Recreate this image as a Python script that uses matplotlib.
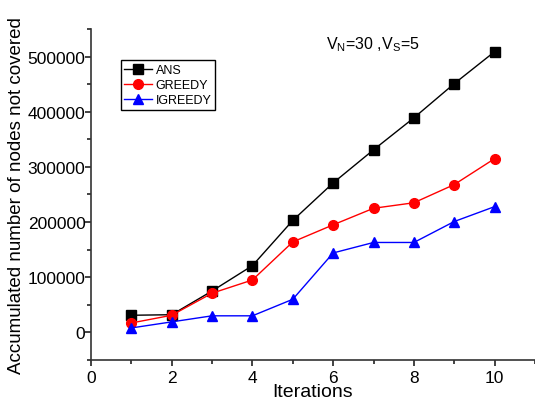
import matplotlib
matplotlib.use('Agg')
import matplotlib.pyplot as plt
from matplotlib.ticker import MultipleLocator

plt.rcParams['font.family'] = ['Liberation Sans', 'DejaVu Sans']

iterations = [1, 2, 3, 4, 5, 6, 7, 8, 9, 10]
ans = [31000, 32000, 75000, 121000, 203000, 271000, 331000, 389000, 451000, 509000]
greedy = [17000, 31000, 71000, 95000, 164000, 195000, 225000, 235000, 268000, 315000]
igreedy = [8000, 19000, 30000, 30000, 60000, 144000, 163000, 163000, 201000, 228000]

fig = plt.figure(figsize=(5.35, 4.06), dpi=100)
ax = fig.add_axes([0.170, 0.111, 0.830, 0.815])

ax.plot(iterations, ans, color='black', marker='s', markersize=6.5, linewidth=1, label='ANS')
ax.plot(iterations, greedy, color='red', marker='o', markersize=7, linewidth=1, label='GREEDY')
ax.plot(iterations, igreedy, color='blue', marker='^', markersize=7.5, linewidth=1, label='IGREEDY')

ax.set_xlim(0, 11)
ax.set_ylim(-50000, 550000)
ax.xaxis.set_major_locator(MultipleLocator(2))
ax.xaxis.set_minor_locator(MultipleLocator(1))
ax.yaxis.set_major_locator(MultipleLocator(100000))
ax.yaxis.set_minor_locator(MultipleLocator(50000))

for s in ['top', 'right']:
    ax.spines[s].set_visible(False)
for s in ['left', 'bottom']:
    ax.spines[s].set_color('#333333')
    ax.spines[s].set_linewidth(1.2)

ax.tick_params(which='major', direction='out', length=4, width=1.2, labelsize=12.5, color='#222222')
ax.tick_params(axis='y', which='major', pad=0)
ax.tick_params(axis='x', which='major', pad=3)
ax.tick_params(which='minor', direction='out', length=3, width=1.2, color='#222222')

ax.set_xlabel('Iterations', fontsize=14, labelpad=-1)
ax.set_ylabel('Accumulated number of nodes not covered', fontsize=13.5, labelpad=2)

fig.text(326 / 535, 1 - 45 / 406, r'V$\mathregular{_N}$=30 ,V$\mathregular{_S}$=5', fontsize=11.5,
         va='center', ha='left')

leg = ax.legend(loc='upper left', bbox_to_anchor=(0.067, 0.905), fontsize=9,
                frameon=True, fancybox=False, edgecolor='black', framealpha=1,
                handlelength=2.2, handletextpad=0.3, borderpad=0.3,
                labelspacing=0.25, borderaxespad=0)
leg.get_frame().set_linewidth(1)

fig.savefig('out.png', dpi=100)
